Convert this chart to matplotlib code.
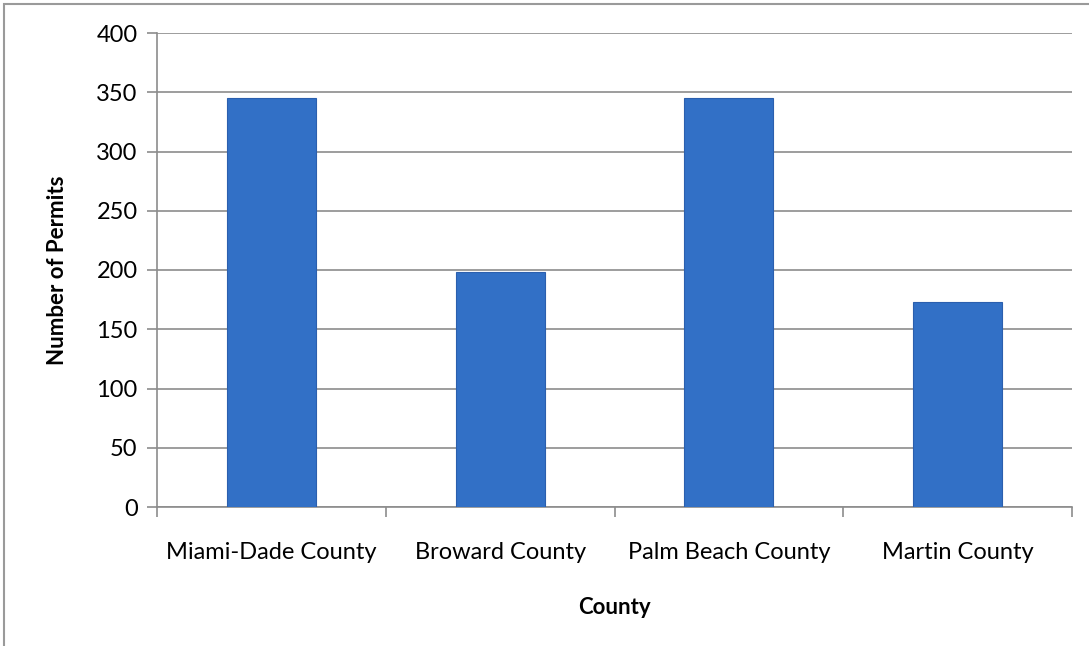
import matplotlib.pyplot as plt
import numpy as np
from matplotlib.patches import Rectangle

counties = ['Miami-Dade County', 'Broward County', 'Palm Beach County', 'Martin County']
permits = [345, 198, 345, 173]
y_ticks = [0, 50, 100, 150, 200, 250, 300, 350, 400]

plt.rcParams['font.family'] = ['Lato', 'DejaVu Sans']

fig = plt.figure(figsize=(10.89, 6.46), dpi=100)
ax = fig.add_axes([157 / 1089, 1 - 507 / 646, (1072 - 157) / 1089, (507 - 33) / 646])

x = np.arange(len(counties))
ax.bar(x, permits, width=0.39, color='#3270c6', edgecolor='#2b5fae', linewidth=0.8, zorder=3)

ax.set_xlim(-0.5, len(counties) - 0.5)
ax.set_ylim(0, 400)
ax.set_yticks(y_ticks)
ax.yaxis.grid(True, color='#8c8c8c', linewidth=1.2, zorder=0)
ax.tick_params(axis='y', length=7, width=1.2, color='#8c8c8c', labelsize=17, pad=7)

# category boundary ticks on x
ax.set_xticks(np.arange(-0.5, len(counties)), minor=False)
ax.set_xticklabels([''] * (len(counties) + 1))
ax.set_xticks(x, minor=True)
ax.set_xticklabels(counties, minor=True)
ax.tick_params(axis='x', which='major', length=7, width=1.2, color='#8c8c8c')
ax.tick_params(axis='x', which='minor', length=0, labelsize=17, pad=25)

for side in ['top', 'right']:
    ax.spines[side].set_visible(False)
for side in ['left', 'bottom']:
    ax.spines[side].set_color('#8c8c8c')
    ax.spines[side].set_linewidth(1.2)

ax.set_ylabel('Number of Permits', fontsize=16, fontweight='bold', labelpad=20)
ax.set_xlabel('County', fontsize=16, fontweight='bold', labelpad=25)

# chart area frame (cut off at right and bottom)
fig.patches.append(Rectangle((4 / 1089, -0.1), 1.2, 1 - 4 / 646 + 0.1, transform=fig.transFigure,
                             fill=False, edgecolor='#9a9a9a', linewidth=1.5))

fig.savefig('out.png', dpi=100)
